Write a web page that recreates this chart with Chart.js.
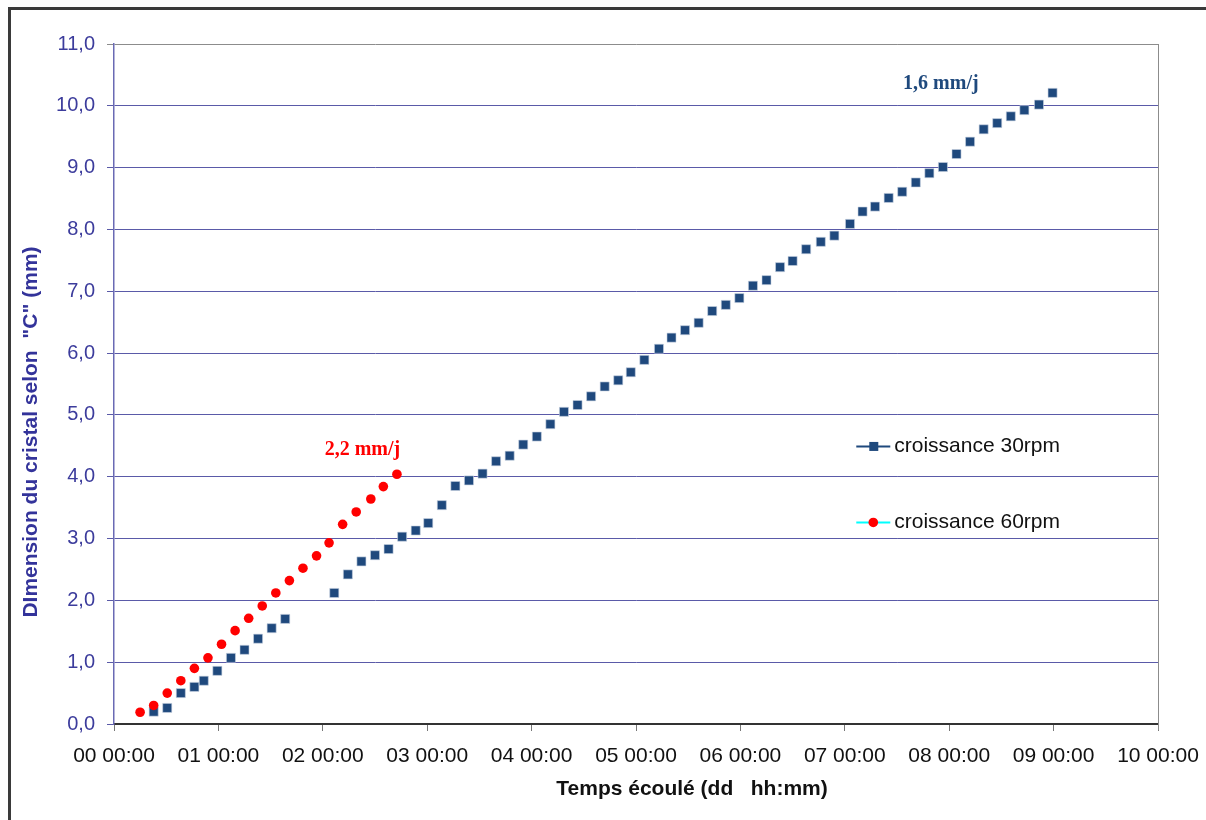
<!DOCTYPE html>
<html>
<head>
<meta charset="utf-8">
<script src="https://cdn.jsdelivr.net/npm/chart.js@4/dist/chart.umd.min.js"></script>
<style>
  html, body { margin: 0; padding: 0; background: #fff; }
  canvas { display: block; }
</style>
</head>
<body>
<canvas id="croissance" width="1206" height="820"></canvas>
<script>
// temps écoulé en jours, dimension en mm
let jours30 = [0.38, 0.51, 0.64, 0.77, 0.86, 0.99, 1.12, 1.25, 1.38, 1.51, 1.64,
  2.11, 2.24, 2.37, 2.50, 2.63, 2.76, 2.89, 3.01, 3.14, 3.27,
  3.40, 3.53, 3.66, 3.79, 3.92, 4.05, 4.18, 4.31, 4.44, 4.57,
  4.70, 4.83, 4.95, 5.08, 5.22, 5.34, 5.47, 5.60, 5.73, 5.86,
  5.99, 6.12, 6.25, 6.38, 6.50, 6.63, 6.77, 6.90, 7.05, 7.17,
  7.29, 7.42, 7.55, 7.68, 7.81, 7.94, 8.07, 8.20, 8.33, 8.46,
  8.59, 8.72, 8.86, 8.99];
let taille30 = [0.20, 0.26, 0.50, 0.60, 0.70, 0.86, 1.07, 1.20, 1.38, 1.55, 1.70,
  2.12, 2.42, 2.63, 2.73, 2.83, 3.03, 3.13, 3.25, 3.54, 3.85,
  3.94, 4.05, 4.25, 4.34, 4.52, 4.65, 4.85, 5.05, 5.16, 5.30,
  5.46, 5.56, 5.69, 5.89, 6.07, 6.25, 6.37, 6.49, 6.68, 6.78,
  6.89, 7.09, 7.18, 7.39, 7.49, 7.68, 7.80, 7.90, 8.09, 8.29,
  8.37, 8.51, 8.61, 8.76, 8.91, 9.01, 9.22, 9.42, 9.62, 9.72,
  9.83, 9.93, 10.02, 10.21];

let jours60 = [0.25, 0.38, 0.51, 0.64, 0.77, 0.90, 1.03, 1.16, 1.29, 1.42,
  1.55, 1.68, 1.81, 1.94, 2.06, 2.19, 2.32, 2.46, 2.58, 2.71];
let taille60 = [0.19, 0.30, 0.50, 0.70, 0.90, 1.07, 1.29, 1.51, 1.71, 1.91,
  2.12, 2.32, 2.52, 2.72, 2.93, 3.23, 3.43, 3.64, 3.84, 4.04];

let labels = ['croissance 30rpm', 'croissance 60rpm'];
let pentes = ['1,6 mm/j', '2,2 mm/j'];

let bleu = '#1f497d';
let rouge = '#ff0000';
let grille = '#5a5aa8';

function points(xs, ys) {
  return xs.map((x, i) => ({ x: x, y: ys[i] }));
}

// cadre, titres, pentes et légende
let decor = {
  id: 'decor',
  afterDraw(chart) {
    let ctx = chart.ctx;
    let a = chart.chartArea;
    let sx = chart.scales.x;
    let sy = chart.scales.y;
    ctx.save();

    // bord droit de la zone de tracé
    ctx.strokeStyle = '#8c8c8c';
    ctx.lineWidth = 1;
    ctx.beginPath();
    ctx.moveTo(a.right + 0.5, a.top);
    ctx.lineTo(a.right + 0.5, a.bottom + 6);
    ctx.stroke();

    // cadre extérieur
    ctx.strokeStyle = '#3a3a3a';
    ctx.lineWidth = 3;
    ctx.beginPath();
    ctx.moveTo(9.5, 820);
    ctx.lineTo(9.5, 8.5);
    ctx.lineTo(1206, 8.5);
    ctx.stroke();

    // titres des axes
    ctx.fillStyle = '#111';
    ctx.font = 'bold 21px "Liberation Sans", Arial, sans-serif';
    ctx.textAlign = 'center';
    ctx.textBaseline = 'middle';
    ctx.fillText('Temps écoulé (dd   hh:mm)', 692, 789);

    ctx.save();
    ctx.translate(31, 432);
    ctx.rotate(-Math.PI / 2);
    ctx.fillStyle = '#33339a';
    ctx.fillText('DImension du cristal selon  "C" (mm)', 0, 0);
    ctx.restore();

    // pentes
    ctx.font = 'bold 20px "Liberation Serif", "Times New Roman", serif';
    ctx.fillStyle = bleu;
    ctx.fillText(pentes[0], sx.getPixelForValue(7.92), sy.getPixelForValue(10.36));
    ctx.fillStyle = rouge;
    ctx.fillText(pentes[1], sx.getPixelForValue(2.38), sy.getPixelForValue(4.44));

    // légende
    let lx = sx.getPixelForValue(7.11);
    let ly = [sy.getPixelForValue(4.49), sy.getPixelForValue(3.26)];
    ctx.font = '21px "Liberation Sans", Arial, sans-serif';
    ctx.textAlign = 'left';

    ctx.strokeStyle = bleu;
    ctx.lineWidth = 2;
    ctx.beginPath();
    ctx.moveTo(lx, ly[0]);
    ctx.lineTo(lx + 34, ly[0]);
    ctx.stroke();
    ctx.fillStyle = bleu;
    ctx.fillRect(lx + 13, ly[0] - 4.5, 9, 9);
    ctx.fillStyle = '#111';
    ctx.fillText(labels[0], lx + 38, ly[0]);

    ctx.strokeStyle = '#00ffff';
    ctx.beginPath();
    ctx.moveTo(lx, ly[1]);
    ctx.lineTo(lx + 34, ly[1]);
    ctx.stroke();
    ctx.fillStyle = rouge;
    ctx.beginPath();
    ctx.arc(lx + 17, ly[1], 4.8, 0, Math.PI * 2);
    ctx.fill();
    ctx.fillStyle = '#111';
    ctx.fillText(labels[1], lx + 38, ly[1]);

    ctx.restore();
  }
};

let ctx = document.getElementById('croissance').getContext('2d');

new Chart(ctx, {
  type: 'scatter',
  data: {
    datasets: [{
      label: labels[1],
      data: points(jours60, taille60),
      pointStyle: 'circle',
      pointRadius: 4.8,
      pointBackgroundColor: rouge,
      pointBorderWidth: 0,
      showLine: false
    }, {
      label: labels[0],
      data: points(jours30, taille30),
      pointStyle: 'rect',
      pointRadius: 6.4,
      pointBackgroundColor: bleu,
      pointBorderColor: '#c8d2e0',
      pointBorderWidth: 0.6,
      showLine: false
    }]
  },
  options: {
    responsive: false,
    animation: false,
    layout: {
      padding: { top: 44, right: 48, left: 0, bottom: 0 }
    },
    plugins: {
      legend: { display: false },
      tooltip: { enabled: false }
    },
    scales: {
      x: {
        type: 'linear',
        min: 0,
        max: 10,
        afterFit: scale => {
          scale.height = 96;
          scale.paddingLeft = 0;
          scale.paddingRight = 0;
        },
        ticks: {
          stepSize: 1,
          padding: 13,
          color: '#111',
          font: { family: '"Liberation Sans", Arial, sans-serif', size: 21 },
          maxRotation: 0,
          callback: v => String(v).padStart(2, '0') + ' 00:00'
        },
        grid: {
          drawOnChartArea: false,
          drawTicks: true,
          tickLength: 7,
          color: '#777'
        },
        border: { color: '#333', width: 2 }
      },
      y: {
        min: 0,
        max: 11,
        afterFit: scale => { scale.width = 114; },
        ticks: {
          stepSize: 1,
          padding: 12,
          color: '#3c3c9c',
          font: { family: '"Liberation Sans", Arial, sans-serif', size: 20 },
          callback: v => v.toFixed(1).replace('.', ',')
        },
        grid: {
          tickLength: 7,
          color: c => c.tick && c.tick.value === 11 ? '#8c8c8c' : grille,
          lineWidth: 1
        },
        border: { color: '#6a6ab4', width: 1.5 }
      }
    }
  },
  plugins: [decor]
});
</script>
</body>
</html>
